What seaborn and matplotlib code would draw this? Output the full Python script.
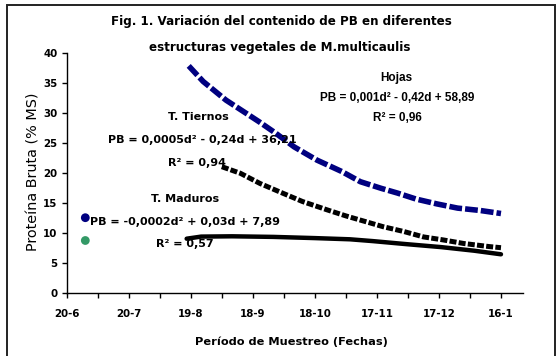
import matplotlib
matplotlib.use("Agg")
import matplotlib.pyplot as plt
import seaborn as sns
from matplotlib.patches import Rectangle

# Days counted from 20-6 (first sampling date)
hojas_dia = [59, 66, 77, 85, 93, 101, 110, 121, 133, 142, 152, 160, 169, 179, 189, 200, 210]
hojas_pb = [37.9, 35.3, 32.2, 30.4, 28.6, 26.7, 24.4, 22.2, 20.3, 18.6, 17.5, 16.7, 15.7, 14.9, 14.2, 13.8, 13.3]

tiernos_dia = [75, 84, 93.5, 103, 114, 126, 135, 143.5, 153, 163, 172.5, 182, 192, 204, 210]
tiernos_pb = [21.1, 20.0, 18.3, 16.9, 15.3, 13.9, 12.9, 12.05, 11.1, 10.3, 9.4, 8.9, 8.3, 7.8, 7.6]

maduros_dia = [58, 65, 80, 100, 120, 137, 148, 164, 181, 197, 210]
maduros_pb = [9.1, 9.45, 9.5, 9.4, 9.2, 9.0, 8.7, 8.2, 7.7, 7.1, 6.5]

# Single early samples
punto_dia = [9, 9]
punto_pb = [12.6, 8.8]
punto_color = ["#000080", "#339966"]

tick_dias = [0, 30, 60, 90, 120, 150, 180, 210]
tick_fechas = ["20-6", "20-7", "19-8", "18-9", "18-10", "17-11", "17-12", "16-1"]
minor_dias = [15, 45, 75, 105, 135, 165, 195]

W, H = 558, 356
sns.set_theme(style="white")
plt.rcParams["font.family"] = ["DejaVu Sans"]
plt.rcParams.update({"text.color": "black", "axes.labelcolor": "black",
                     "xtick.color": "black", "ytick.color": "black"})

fig = plt.figure(figsize=(W / 100, H / 100), dpi=100)
fig.patch.set_facecolor("white")
ax = fig.add_axes([66.7 / W, 62.7 / H, 456 / W, 240 / H])


def px(x, y):
    return x / W, 1 - y / H


sns.lineplot(x=hojas_dia, y=hojas_pb, ax=ax, color="#000080", linewidth=4.0,
             linestyle=(0, (2.3, 0.55)), dash_capstyle="butt")
sns.lineplot(x=tiernos_dia, y=tiernos_pb, ax=ax, color="black", linewidth=3.6,
             linestyle=(0, (1.4, 0.45)), dash_capstyle="butt")
sns.lineplot(x=maduros_dia, y=maduros_pb, ax=ax, color="black", linewidth=3.2,
             solid_capstyle="round")
for d, v, c in zip(punto_dia, punto_pb, punto_color):
    sns.scatterplot(x=[d], y=[v], ax=ax, color=c, s=40, edgecolor="none")

ax.set_xlim(0, 220.5)
ax.set_ylim(0, 40)
ax.set_yticks(range(0, 41, 5))
ax.set_xticks(tick_dias)
ax.set_xticklabels(tick_fechas)
ax.set_xticks(minor_dias, minor=True)
for lab in ax.get_xticklabels() + ax.get_yticklabels():
    lab.set_fontweight("bold")
    lab.set_fontsize(7.4)
ax.tick_params(axis="both", which="both", bottom=True, left=True, direction="out",
               length=3.5, width=1)
ax.tick_params(axis="x", pad=8)
ax.tick_params(axis="y", pad=3)
for s in ["top", "right"]:
    ax.spines[s].set_visible(False)
for s in ["left", "bottom"]:
    ax.spines[s].set_color("black")
    ax.spines[s].set_linewidth(1)
ax.set_xlabel("")
ax.set_ylabel("")

fig.text(*px(34, 172), "Proteína Bruta (% MS)", rotation=90, ha="center", va="center",
         fontsize=10.4)
fig.text(*px(291, 342), "Período de Muestreo (Fechas)", ha="center", va="center",
         fontsize=8.2, fontweight="bold")
fig.text(*px(281, 22), "Fig. 1. Variación del contenido de PB en diferentes",
         ha="center", va="center", fontsize=8.6, fontweight="bold")
fig.text(*px(280, 48), "estructuras vegetales de M.multicaulis",
         ha="center", va="center", fontsize=8.6, fontweight="bold")

arial = ["Liberation Sans", "DejaVu Sans"]
fig.text(*px(396, 78), "Hojas", ha="center", va="center", fontsize=8.5,
         fontweight="bold", family=arial)
fig.text(*px(397, 98), "PB = 0,001d² - 0,42d + 58,89", ha="center", va="center",
         fontsize=8.5, fontweight="bold", family=arial)
fig.text(*px(397, 118), "R² = 0,96", ha="center", va="center", fontsize=8.5,
         fontweight="bold", family=arial)

fig.text(*px(198, 117), "T. Tiernos", ha="center", va="center", fontsize=8, fontweight="bold")
fig.text(*px(202, 140), "PB = 0,0005d² - 0,24d + 36,21", ha="center", va="center",
         fontsize=8, fontweight="bold")
fig.text(*px(197, 163), "R² = 0,94", ha="center", va="center", fontsize=8, fontweight="bold")

fig.text(*px(185, 199), "T. Maduros", ha="center", va="center", fontsize=8, fontweight="bold")
fig.text(*px(185, 222), "PB = -0,0002d² + 0,03d + 7,89", ha="center", va="center",
         fontsize=8, fontweight="bold")
fig.text(*px(185, 244), "R² = 0,57", ha="center", va="center", fontsize=8, fontweight="bold")

# Outer chart frame
fig.patches.append(Rectangle(px(7, 362), 548 / W, 357.5 / H, transform=fig.transFigure,
                             fill=False, edgecolor="#222222", linewidth=1.4))

fig.savefig("out.png", dpi=100)
